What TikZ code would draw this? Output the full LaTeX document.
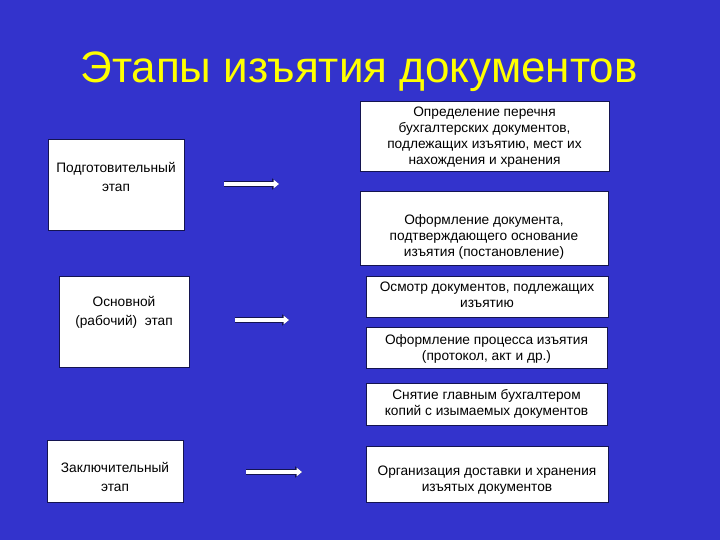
\documentclass[tikz,border=0pt]{standalone}
\usepackage{fontspec}
\setmainfont{Liberation Sans}
\usetikzlibrary{arrows.meta}
\definecolor{slide}{RGB}{51,51,204}
\definecolor{ttl}{RGB}{255,255,0}
\definecolor{rim}{RGB}{20,20,80}
\tikzset{%
    box/.style={rectangle, draw=rim, line width=0.8pt, fill=white, inner sep=0pt},
    lbl/.style={align=center, inner sep=0pt, font=\fontsize{13.7}{16}\selectfont},
    llbl/.style={align=center, inner sep=0pt, font=\fontsize{13.7}{19}\selectfont},
    arr/.style={line width=3.6pt, white, -{Triangle[length=5.5pt, width=8.5pt]},
        preaction={draw=rim, line width=5.4pt, -{Triangle[length=7pt, width=11pt]}}},
}
\begin{document}
\begin{tikzpicture}[x=1pt,y=-1pt]
    \useasboundingbox [fill=slide] (0,0) rectangle (720,540);
    \node [anchor=base, text=ttl, font=\fontsize{44}{50}\selectfont] (title) at (359,83) {Этапы изъятия документов};
    \node [box, minimum width=136pt, minimum height=91pt] (prep) at (116,184.5) {};
    \node [llbl] (prept) at ([yshift=8pt]prep.center) {Подготовительный\\этап};
    \node [box, minimum width=130pt, minimum height=91pt] (main) at (124,321.5) {};
    \node [llbl] (maint) at ([yshift=9.5pt]main.center) {Основной\\(рабочий)~~этап};
    \node [box, minimum width=136pt, minimum height=62pt] (fin) at (115,471) {};
    \node [llbl] (fint) at ([yshift=-6pt]fin.center) {Заключительный\\этап};
    \node [box, minimum width=249pt, minimum height=70pt] (list) at (484.5,136) {};
    \node [lbl] (listt) at ([yshift=-1.5pt]list.center) {Определение перечня\\бухгалтерских документов,\\подлежащих изъятию, мест их\\нахождения и хранения};
    \node [box, minimum width=248pt, minimum height=74pt] (order) at (484,228) {};
    \node [lbl] (ordert) at ([yshift=-8.5pt]order.center) {Оформление документа,\\подтверждающего основание\\изъятия (постановление)};
    \node [box, minimum width=242pt, minimum height=41pt] (insp) at (487,296.5) {};
    \node [lbl] (inspt) at ([yshift=1.5pt]insp.center) {Осмотр документов, подлежащих\\изъятию};
    \node [box, minimum width=241pt, minimum height=41pt] (proc) at (486.5,347.5) {};
    \node [lbl] (proct) at ([yshift=-1pt]proc.center) {Оформление процесса изъятия\\(протокол, акт и др.)};
    \node [box, minimum width=241pt, minimum height=42pt] (copy) at (486.5,404) {};
    \node [lbl] (copyt) at (copy.center) {Снятие главным бухгалтером\\копий с изымаемых документов};
    \node [box, minimum width=242pt, minimum height=56pt] (deliv) at (487,474) {};
    \node [lbl] (delivt) at ([yshift=-6pt]deliv.center) {Организация доставки и хранения\\изъятых документов};
    \coordinate (a1) at (224,184);
    \coordinate (b1) at (279,184);
    \coordinate (a2) at (235,320);
    \coordinate (b2) at (289,320);
    \coordinate (a3) at (246,472);
    \coordinate (b3) at (302,472);
    \draw [arr] (a1) -- (b1);
    \draw [arr] (a2) -- (b2);
    \draw [arr] (a3) -- (b3);
\end{tikzpicture}
\end{document}
